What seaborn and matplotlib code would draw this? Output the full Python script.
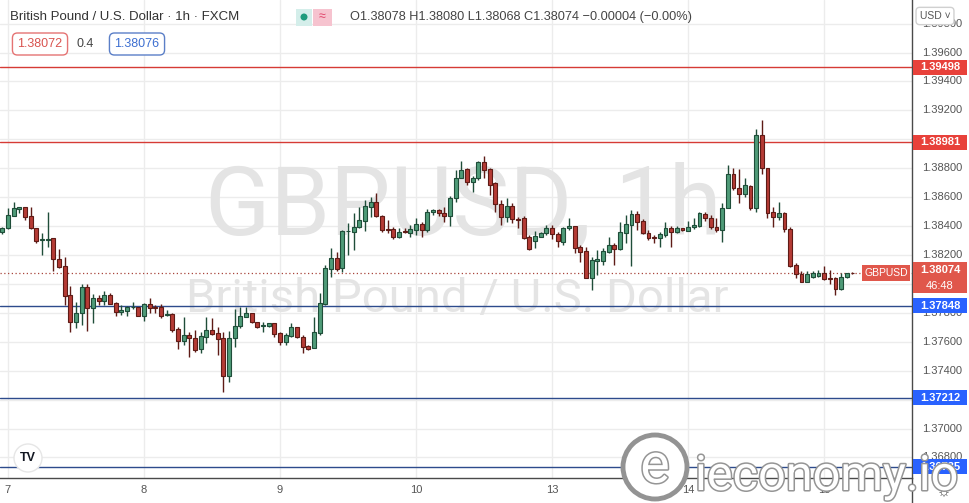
import numpy as np
import pandas as pd
import seaborn as sns
import matplotlib
matplotlib.use("Agg")
import matplotlib.pyplot as plt
from matplotlib.patches import Rectangle, Ellipse
from matplotlib.lines import Line2D
from matplotlib.transforms import blended_transform_factory
import matplotlib.patheffects as pe

# GBPUSD 1h candles (oldest first)
opens = [1.38359, 1.38385, 1.38472, 1.38518, 1.38530, 1.38470, 1.38385, 1.38304, 1.38306, 1.38316,
         1.38170, 1.38124, 1.37923, 1.37739, 1.37797, 1.37977, 1.37836, 1.37901, 1.37884, 1.37923,
         1.37866, 1.37804, 1.37815, 1.37838, 1.37838, 1.37780, 1.37859, 1.37842, 1.37838, 1.37783,
         1.37792, 1.37686, 1.37607, 1.37647, 1.37624, 1.37548, 1.37635, 1.37681, 1.37658, 1.37626,
         1.37365, 1.37624, 1.37711, 1.37773, 1.37797, 1.37735, 1.37709, 1.37711, 1.37728, 1.37658,
         1.37596, 1.37642, 1.37700, 1.37631, 1.37571, 1.37555, 1.37663, 1.37861, 1.38101, 1.38177,
         1.38108, 1.38364, 1.38361, 1.38396, 1.38437, 1.38534, 1.38564, 1.38470, 1.38380, 1.38380,
         1.38327, 1.38364, 1.38354, 1.38373, 1.38412, 1.38373, 1.38495, 1.38511, 1.38493, 1.38470,
         1.38592, 1.38730, 1.38793, 1.38707, 1.38730, 1.38843, 1.38793, 1.38700, 1.38551, 1.38461,
         1.38539, 1.38451, 1.38454, 1.38327, 1.38299, 1.38327, 1.38350, 1.38385, 1.38343, 1.38292,
         1.38385, 1.38401, 1.38253, 1.38228, 1.38043, 1.38161, 1.38161, 1.38223, 1.38269, 1.38242,
         1.38354, 1.38408, 1.38481, 1.38437, 1.38354, 1.38327, 1.38316, 1.38338, 1.38385, 1.38361,
         1.38385, 1.38368, 1.38396, 1.38403, 1.38484, 1.38454, 1.38396, 1.38373, 1.38523, 1.38760,
         1.38661, 1.38620, 1.38679, 1.38523, 1.39030, 1.38800, 1.38495, 1.38465, 1.38488, 1.38380,
         1.38131, 1.38069, 1.38015, 1.38050, 1.38055, 1.38078, 1.38043, 1.38039, 1.37963, 1.38046,
         1.38078]
highs = [1.38396, 1.38523, 1.38569, 1.38530, 1.38534, 1.38530, 1.38389, 1.38350, 1.38500, 1.38320,
         1.38239, 1.38188, 1.37988, 1.37873, 1.37997, 1.37997, 1.37928, 1.37923, 1.37953, 1.37939,
         1.37873, 1.37854, 1.37847, 1.37873, 1.37842, 1.37866, 1.37901, 1.37854, 1.37859, 1.37820,
         1.37797, 1.37704, 1.37773, 1.37670, 1.37681, 1.37670, 1.37773, 1.37766, 1.37704, 1.37670,
         1.37676, 1.37827, 1.37842, 1.37842, 1.37801, 1.37739, 1.37739, 1.37732, 1.37732, 1.37670,
         1.37658, 1.37728, 1.37704, 1.37647, 1.37578, 1.37773, 1.37935, 1.38131, 1.38246, 1.38223,
         1.38373, 1.38419, 1.38488, 1.38534, 1.38580, 1.38603, 1.38627, 1.38477, 1.38442, 1.38396,
         1.38389, 1.38385, 1.38408, 1.38458, 1.38430, 1.38516, 1.38518, 1.38518, 1.38534, 1.38608,
         1.38788, 1.38852, 1.38800, 1.38746, 1.38852, 1.38885, 1.38800, 1.38707, 1.38580, 1.38596,
         1.38562, 1.38465, 1.38470, 1.38338, 1.38366, 1.38361, 1.38408, 1.38408, 1.38361, 1.38396,
         1.38454, 1.38403, 1.38269, 1.38257, 1.38188, 1.38235, 1.38246, 1.38327, 1.38285, 1.38426,
         1.38477, 1.38511, 1.38504, 1.38447, 1.38373, 1.38338, 1.38361, 1.38430, 1.38401, 1.38401,
         1.38389, 1.38437, 1.38454, 1.38500, 1.38500, 1.38477, 1.38454, 1.38558, 1.38822, 1.38804,
         1.38793, 1.38730, 1.38684, 1.39069, 1.39134, 1.38800, 1.38534, 1.38569, 1.38500, 1.38396,
         1.38147, 1.38089, 1.38089, 1.38089, 1.38096, 1.38124, 1.38096, 1.38046, 1.38073, 1.38078,
         1.38080]
lows = [1.38343, 1.38380, 1.38472, 1.38488, 1.38442, 1.38378, 1.38285, 1.38200, 1.38257, 1.38089,
        1.38112, 1.37854, 1.37670, 1.37697, 1.37716, 1.37674, 1.37728, 1.37854, 1.37854, 1.37859,
        1.37780, 1.37785, 1.37780, 1.37827, 1.37780, 1.37744, 1.37797, 1.37797, 1.37762, 1.37780,
        1.37670, 1.37550, 1.37578, 1.37497, 1.37531, 1.37520, 1.37589, 1.37647, 1.37508, 1.37255,
        1.37324, 1.37566, 1.37693, 1.37773, 1.37728, 1.37693, 1.37670, 1.37704, 1.37635, 1.37578,
        1.37578, 1.37635, 1.37624, 1.37520, 1.37543, 1.37555, 1.37647, 1.37854, 1.38050, 1.38091,
        1.38085, 1.38200, 1.38235, 1.38385, 1.38368, 1.38465, 1.38465, 1.38361, 1.38350, 1.38309,
        1.38320, 1.38350, 1.38322, 1.38338, 1.38327, 1.38361, 1.38477, 1.38472, 1.38430, 1.38401,
        1.38569, 1.38730, 1.38684, 1.38638, 1.38719, 1.38730, 1.38615, 1.38500, 1.38408, 1.38430,
        1.38419, 1.38385, 1.38309, 1.38235, 1.38246, 1.38322, 1.38338, 1.38309, 1.38257, 1.38269,
        1.38373, 1.38212, 1.38154, 1.38039, 1.37958, 1.38062, 1.38131, 1.38212, 1.38131, 1.38235,
        1.38285, 1.38124, 1.38373, 1.38345, 1.38304, 1.38285, 1.38257, 1.38327, 1.38257, 1.38350,
        1.38366, 1.38366, 1.38380, 1.38392, 1.38437, 1.38380, 1.38361, 1.38292, 1.38523, 1.38650,
        1.38562, 1.38599, 1.38511, 1.38500, 1.38760, 1.38454, 1.38392, 1.38442, 1.38361, 1.38119,
        1.38039, 1.38015, 1.38015, 1.38039, 1.38050, 1.38027, 1.37999, 1.37923, 1.37958, 1.38039,
        1.38068]
closes = [1.38385, 1.38477, 1.38523, 1.38529, 1.38465, 1.38385, 1.38299, 1.38311, 1.38313, 1.38170,
          1.38119, 1.37919, 1.37739, 1.37797, 1.37977, 1.37836, 1.37901, 1.37882, 1.37923, 1.37863,
          1.37804, 1.37820, 1.37838, 1.37840, 1.37780, 1.37859, 1.37831, 1.37831, 1.37780, 1.37790,
          1.37681, 1.37607, 1.37647, 1.37624, 1.37543, 1.37640, 1.37681, 1.37652, 1.37619, 1.37365,
          1.37626, 1.37711, 1.37778, 1.37797, 1.37735, 1.37704, 1.37716, 1.37728, 1.37654, 1.37596,
          1.37647, 1.37704, 1.37631, 1.37566, 1.37550, 1.37665, 1.37866, 1.38112, 1.38177, 1.38101,
          1.38366, 1.38368, 1.38396, 1.38442, 1.38539, 1.38569, 1.38470, 1.38373, 1.38373, 1.38327,
          1.38361, 1.38361, 1.38380, 1.38412, 1.38373, 1.38500, 1.38511, 1.38488, 1.38470, 1.38596,
          1.38735, 1.38788, 1.38707, 1.38730, 1.38843, 1.38788, 1.38684, 1.38551, 1.38461, 1.38539,
          1.38447, 1.38444, 1.38320, 1.38239, 1.38331, 1.38350, 1.38385, 1.38343, 1.38297, 1.38385,
          1.38401, 1.38250, 1.38223, 1.38043, 1.38165, 1.38170, 1.38228, 1.38269, 1.38242, 1.38361,
          1.38414, 1.38484, 1.38430, 1.38350, 1.38320, 1.38316, 1.38345, 1.38385, 1.38361, 1.38385,
          1.38373, 1.38396, 1.38408, 1.38488, 1.38454, 1.38392, 1.38373, 1.38523, 1.38760, 1.38661,
          1.38620, 1.38684, 1.38523, 1.39030, 1.38800, 1.38493, 1.38465, 1.38488, 1.38378, 1.38126,
          1.38067, 1.38015, 1.38069, 1.38073, 1.38078, 1.38034, 1.38032, 1.37963, 1.38046, 1.38073,
          1.38074]

day_labels = ["7", "8", "9", "10", "13", "14", "15"]
day_pos = [1, 25, 49, 73, 97, 121, 145]  # bar index where each session starts

res_levels = [1.39498, 1.38981]
sup_levels = [1.37848, 1.37212, 1.36735]
last_price = 1.38074
y_ticks = np.arange(1.368, 1.3990, 0.002)
# scale labels that TradingView hides behind the price tags
hidden_ticks = ["1.39000", "1.38000", "1.37200"]

df = pd.DataFrame({"open": opens, "high": highs, "low": lows, "close": closes})
df["x"] = np.arange(len(df))
df["up"] = df["close"] >= df["open"]

sns.set_theme(style="white")
plt.rcParams["font.family"] = ["Liberation Sans", "DejaVu Sans"]

W, H = 970, 503
fig = plt.figure(figsize=(W / 100, H / 100), dpi=100)


def fx(x):
    return x / W


def fy(y):
    return 1 - y / H


ymin, ymax = 1.366577, 1.399636
px_price = (ymax - ymin) / 478  # price per screen pixel

ax = fig.add_axes([0, fy(478), fx(912), 478 / H])
ax.set_ylim(ymin, ymax)
ax.set_xlim(-0.4, len(df) + 9.5)
ax.set_facecolor("white")

# grid
for t in y_ticks:
    ax.axhline(t, color="#ececec", lw=1, zorder=0)
for d in day_pos:
    ax.axvline(d, color="#ececec", lw=1, zorder=0)

ax.set_yticks([])
ax.set_xticks(day_pos)
ax.set_xticklabels(day_labels)
ax.tick_params(axis="x", length=0, pad=5, labelsize=8, labelcolor="#555555")
for s in ["top", "left"]:
    ax.spines[s].set_visible(False)
for s in ["bottom", "right"]:
    ax.spines[s].set_color("#4a4a4a")
    ax.spines[s].set_linewidth(1)

# watermark
ax.text(fx(463), fy(235), "GBPUSD, 1h", transform=fig.transFigure, ha="center", va="baseline",
        fontsize=69, family="Roboto", color="#e4e4e4", zorder=0.5)
ax.text(fx(457), fy(312), "British Pound / U.S. Dollar", transform=fig.transFigure, ha="center",
        va="baseline", fontsize=34, family="Roboto", color="#e4e4e4", zorder=0.5)

# levels
for lv in res_levels:
    ax.axhline(lv, color="#d63b35", lw=1, zorder=2)
for lv in sup_levels:
    ax.axhline(lv, color="#2d4b8c", lw=1, zorder=2)
ax.axhline(last_price, color="#a8453c", lw=0.9, ls=(0, (1, 2)), zorder=2)

# candles
up_fill, up_edge = "#4f9b78", "#1f4d39"
dn_fill, dn_edge = "#b53b35", "#5e1b16"
fills = np.where(df["up"], up_fill, dn_fill)
edges = np.where(df["up"], up_edge, dn_edge)
ax.vlines(df["x"], df["low"], df["high"], colors=edges, lw=1, zorder=3)
body = (df["close"] - df["open"]).abs().clip(lower=0.00003)
bottom = df[["open", "close"]].min(axis=1)
ax.bar(df["x"], body, bottom=bottom, width=0.68, color=fills, edgecolor=edges,
       linewidth=0.8, zorder=4)

# symbol tag next to the last price
bt = blended_transform_factory(ax.transAxes, ax.transData)
ax.add_patch(Rectangle((862 / 912, last_price - 8 * px_price), 48 / 912, 16 * px_price,
                       transform=bt, fc="#e0574b", ec="none", clip_on=False, zorder=6))
ax.text(886 / 912, last_price, "GBPUSD", transform=bt, ha="center", va="center",
        fontsize=7.5, color="white", zorder=7)

# price scale
ax_r = fig.add_axes([fx(912), fy(478), fx(58), 478 / H])
ax_r.set_ylim(ymin, ymax)
ax_r.set_xlim(0, 58)
ax_r.axis("off")
for t in y_ticks:
    lab = f"{t:.5f}"
    if lab in hidden_ticks:
        continue
    ax_r.text(10, t, lab, ha="left", va="center", fontsize=8, color="#555555", zorder=1)


def price_box(price, color, label):
    ax_r.add_patch(Rectangle((1, price - 7.5 * px_price), 54, 15 * px_price,
                             fc=color, ec="none", zorder=5))
    ax_r.text(28, price, label, ha="center", va="center", fontsize=8, color="white",
              fontweight="bold", zorder=6)


for lv in res_levels:
    price_box(lv, "#e8413a", f"{lv:.5f}")
for lv in sup_levels:
    price_box(lv, "#2962ff", f"{lv:.5f}")

ax_r.add_patch(Rectangle((1, last_price - 20 * px_price), 54, 31 * px_price,
                         fc="#e0574b", ec="none", zorder=5))
ax_r.text(28, last_price + 3 * px_price, f"{last_price:.5f}", ha="center", va="center",
          fontsize=8, color="white", fontweight="bold", zorder=6)
ax_r.text(28, last_price - 13 * px_price, "46:48", ha="center", va="center",
          fontsize=8, color="white", zorder=6)

fig.add_artist(Line2D([fx(912), fx(912)], [0, fy(478)], color="#4a4a4a", lw=1))

# header
fig.text(fx(10), fy(17), "British Pound / U.S. Dollar \u00b7 1h \u00b7 FXCM", fontsize=9.5,
         color="#333333", va="center")
fig.add_artist(Rectangle((fx(296), fy(26)), 16 / W, 17 / H, fc="#d4eeea", ec="none"))
fig.add_artist(Ellipse((fx(304), fy(17)), 7 / W, 7 / H, fc="#1f9c7d", ec="none"))
fig.add_artist(Rectangle((fx(313), fy(26)), 19 / W, 17 / H, fc="#f6c3cf", ec="none"))
fig.text(fx(322.5), fy(17), "\u2248", fontsize=9, color="#e0446a", ha="center", va="center")
fig.text(fx(350), fy(17), "O1.38078 H1.38080 L1.38068 C1.38074 \u22120.00004 (\u22120.00%)",
         fontsize=9.2, color="#444444", va="center")

fig.text(fx(40), fy(44), "1.38072", fontsize=9, color="#d9534f", ha="center", va="center",
         bbox=dict(boxstyle="round,pad=0.4", fc="white", ec="#e57373", lw=1))
fig.text(fx(85), fy(44), "0.4", fontsize=9, color="#444444", ha="center", va="center")
fig.text(fx(137), fy(44), "1.38076", fontsize=9, color="#3d6fd1", ha="center", va="center",
         bbox=dict(boxstyle="round,pad=0.4", fc="white", ec="#5b7fc7", lw=1))

fig.text(fx(935), fy(16), "USD \u02c5", fontsize=7.5, color="#555555", ha="center", va="center",
         bbox=dict(boxstyle="round,pad=0.35", fc="white", ec="#d0d0d0", lw=1))
fig.text(fx(944), fy(492), "\u263c", fontsize=11, color="#444444", ha="center", va="center")

# TradingView badge
fig.add_artist(Ellipse((fx(28), fy(458)), 28 / W, 28 / H, fc="white", ec="#e6e6e6", lw=1))
fig.text(fx(28), fy(458), "TV", fontsize=9, fontweight="bold", color="#131722",
         ha="center", va="center")

# ieconomy.io stamp
stroke = [pe.withStroke(linewidth=2.2, foreground="#959595")]
fig.add_artist(Ellipse((fx(655), fy(467)), 64 / W, 64 / H, fc="white", ec="#939393", lw=3.5))
fig.text(fx(655), fy(467), "e", fontsize=40, family="Roboto", color="white", ha="center",
         va="center", path_effects=stroke)
fig.text(fx(695), fy(490), "ieconomy.io", fontsize=35, family="Roboto", color="white",
         ha="left", va="baseline", path_effects=stroke)

fig.savefig("out.png", dpi=100)
